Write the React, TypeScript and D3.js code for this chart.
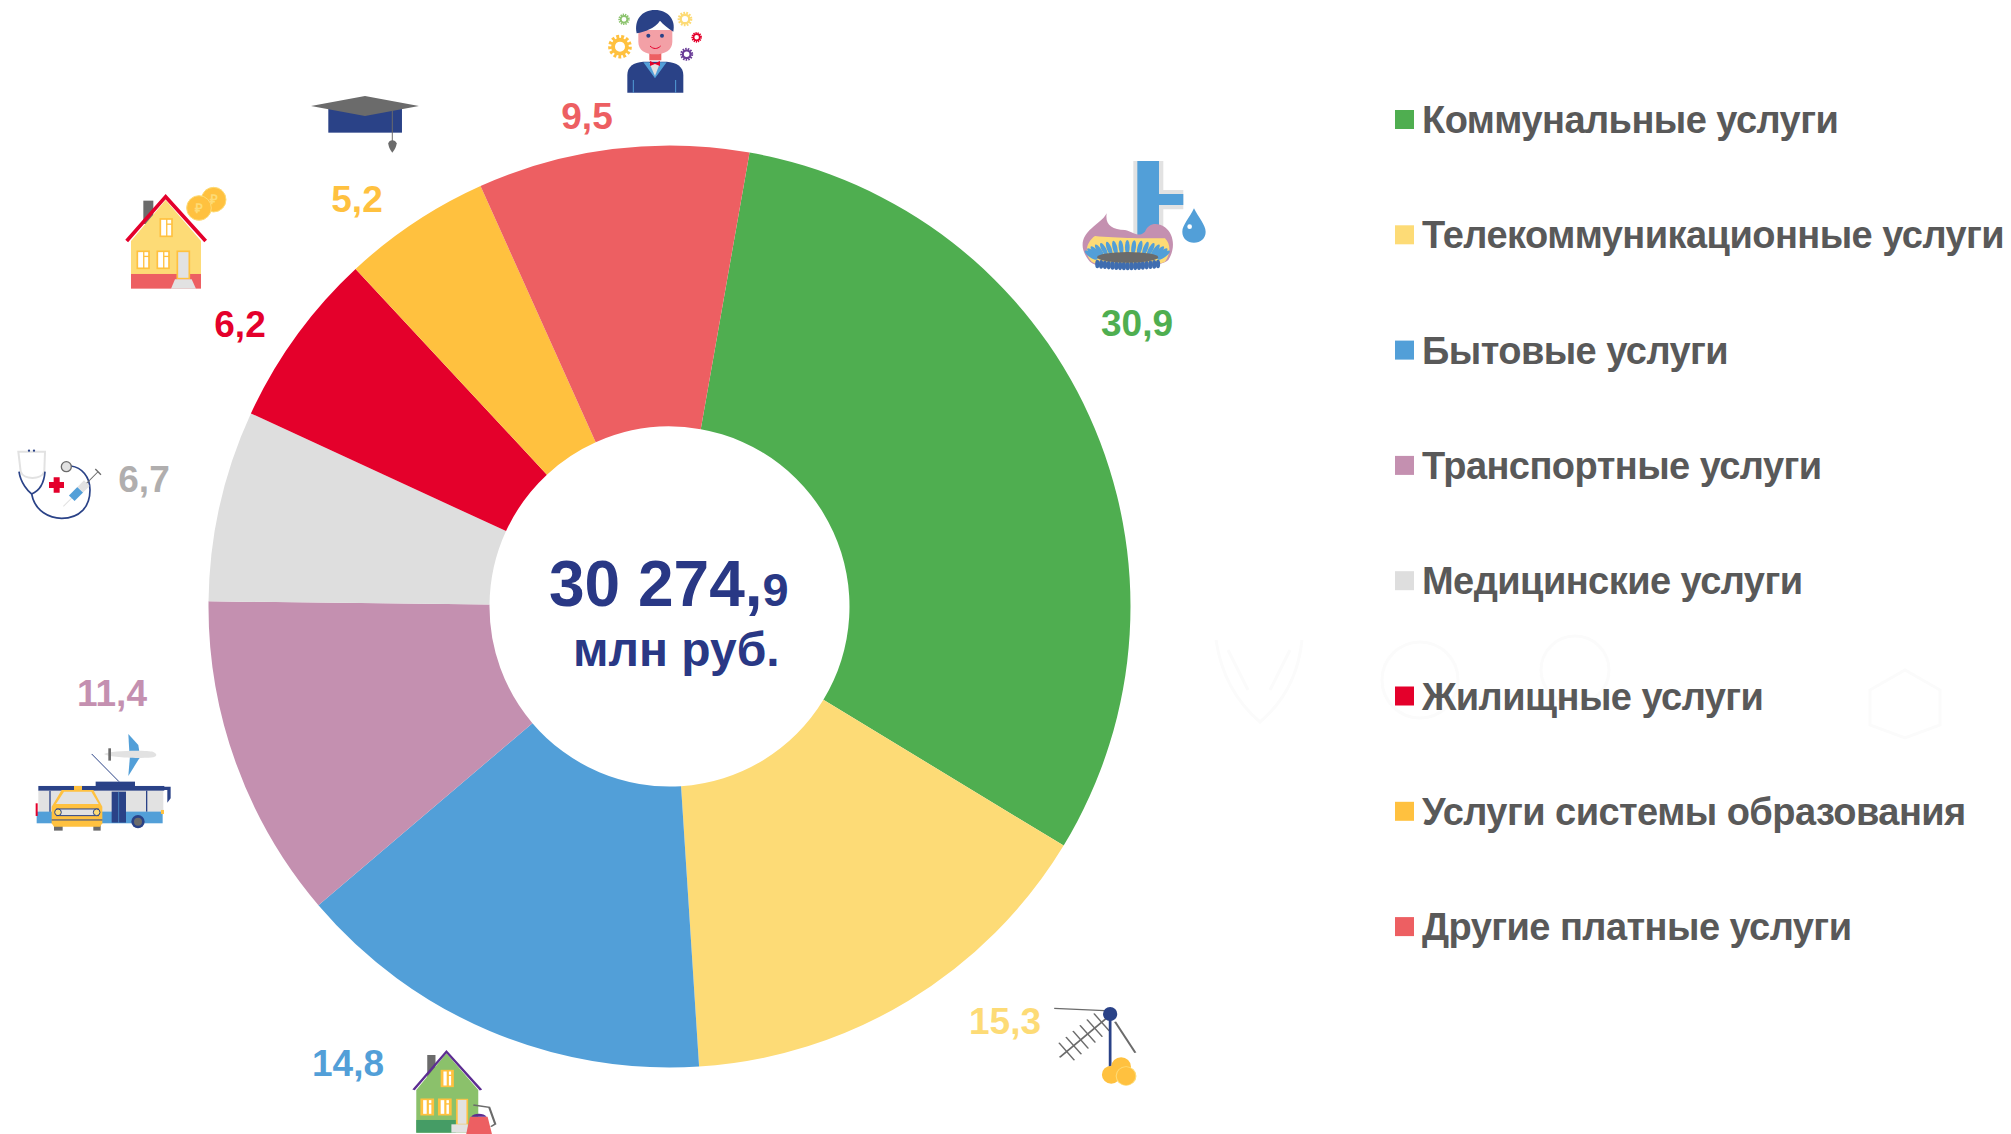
import React from "react";
import * as d3 from "d3";

const categories = [
  "Коммунальные услуги",
  "Телекоммуникационные услуги",
  "Бытовые услуги",
  "Транспортные услуги",
  "Медицинские услуги",
  "Жилищные услуги",
  "Услуги системы образования",
  "Другие платные услуги",
];
const shares = [30.9, 15.3, 14.8, 11.4, 6.7, 6.2, 5.2, 9.5];
const shareLabels = ["30,9", "15,3", "14,8", "11,4", "6,7", "6,2", "5,2", "9,5"];
const sliceColors = ["#4FAE50", "#FDDB76", "#529FD8", "#C490B0", "#DEDEDE", "#E4002B", "#FFC13F", "#ED5F62"];
const labelColors = ["#4FAE50", "#FDDB76", "#529FD8", "#C490B0", "#B0AEAE", "#E4002B", "#FFC13F", "#ED5F62"];
const labelAnchors: [number, number][] = [
  [1137, 336], [1005, 1034], [348, 1076], [112, 706], [144, 492], [240, 337], [357, 212], [587, 129],
];

const NAVY = "#2A4287";
const BLUE = "#529FD8";
const AMBER = "#FFC13F";
const GREY = "#6B6B6B";
const LGREY = "#E2E2E2";

const cx = 669.5;
const cy = 606.5;
const outerR = 461;
const innerR = 180;

const Gear = ({ x, y, r, c }: { x: number; y: number; r: number; c: string }) => (
  <g>
    <circle cx={x} cy={y} r={r} fill="none" stroke={c} strokeWidth={r * 0.45} strokeDasharray={`${r * 0.28} ${r * 0.2}`} />
    <circle cx={x} cy={y} r={r * 0.72} fill="none" stroke={c} strokeWidth={r * 0.4} />
  </g>
);

const Win = ({ x, y, w, h }: { x: number; y: number; w: number; h: number }) => (
  <g>
    <rect x={x} y={y} width={w} height={h} fill="#fff" stroke={AMBER} strokeWidth={5} />
    <line x1={x + w * 0.55} x2={x + w * 0.55} y1={y} y2={y + h} stroke={AMBER} strokeWidth={4} />
    <line x1={x + w * 0.55} x2={x + w} y1={y + h * 0.3} y2={y + h * 0.3} stroke={AMBER} strokeWidth={4} />
  </g>
);

const petals = d3.range(0, 17);

const UtilityIcon = () => (
  <g transform="translate(1050,130) scale(0.3333)">
    <path d="M250 93H340V180H400V238H340V320H250Z" fill={LGREY} />
    <path d="M262 93H327V192H400V225H327V320H262Z" fill={BLUE} />
    <path d="M432 235C445 262 467 285 467 305C467 325 452 338 432 338C412 338 397 325 397 305C397 285 420 262 432 235Z" fill={BLUE} />
    <circle cx={419} cy={290} r={7} fill="#fff" />
    <path d="M170 250C165 285 185 297 225 300C250 305 265 325 285 305C295 280 320 275 345 292C375 315 375 360 355 390C320 420 150 425 120 395C85 355 95 320 125 295C140 280 160 270 170 250Z" fill="#C490B0" />
    <path d="M135 318C200 325 300 325 345 325C365 345 360 375 345 395C300 415 160 415 125 395C100 370 110 335 135 318Z" fill="#FDDB76" />
    {petals.map((i) => {
      const a = -Math.PI * 0.93 + (i / 16) * Math.PI * 0.86;
      const x = 232 + Math.cos(a) * 112;
      const y = 382 + Math.sin(a) * 30;
      return <ellipse key={i} cx={x} cy={y} rx={7} ry={22} fill={BLUE} transform={`rotate(${((a + Math.PI / 2) * 180) / Math.PI * 0.7} ${x} ${y})`} />;
    })}
    {petals.map((i) => {
      const x = 142 + (i / 16) * 182;
      const y = 402 + Math.sin((i / 16) * Math.PI) * 6;
      return <ellipse key={i} cx={x} cy={y} rx={6.5} ry={13} fill="#3F6DB0" />;
    })}
    <ellipse cx={233} cy={382} rx={92} ry={16} fill={GREY} />
  </g>
);

const PersonIcon = () => (
  <g transform="translate(560,0) scale(0.3333)">
    <Gear x={180} y={140} r={29} c={AMBER} />
    <Gear x={192} y={58} r={14} c="#8CC36E" />
    <Gear x={375} y={57} r={18} c="#FDDB76" />
    <Gear x={410} y={112} r={13} c="#E4002B" />
    <Gear x={380} y={163} r={16} c="#6A3D98" />
    <path d="M202 278V225C202 200 220 187 250 185H320C350 187 370 200 370 225V278Z" fill={NAVY} />
    <path d="M250 187L285 235L320 187L300 187L285 225L268 187Z" fill={BLUE} />
    <path d="M268 190H300L285 228Z" fill={LGREY} />
    <line x1={220} y1={240} x2={220} y2={278} stroke={BLUE} strokeWidth={3} />
    <line x1={347} y1={240} x2={347} y2={278} stroke={BLUE} strokeWidth={3} />
    <path d="M270 183L285 190L300 183V198L285 192L270 198Z" fill="#E4002B" />
    <rect x={268} y={155} width={36} height={26} fill="#ED5F62" />
    <path d="M235 90H337V125C337 150 315 163 285 163C255 163 235 150 235 125Z" fill="#F3A0A6" />
    <path d="M230 100C222 60 245 30 285 30C325 30 348 60 340 95C325 85 310 75 300 62C285 85 255 95 230 100Z" fill={NAVY} />
    <circle cx={265} cy={107} r={6} fill={NAVY} />
    <circle cx={306} cy={107} r={6} fill={NAVY} />
    <path d="M270 138C280 148 292 148 302 138" fill="none" stroke="#E4002B" strokeWidth={3} />
  </g>
);

const CapIcon = () => (
  <g transform="translate(100,80) scale(0.3333)">
    <rect x={685} y={85} width={221} height={73} fill={NAVY} />
    <path d="M633 78L795 48L957 78L795 108Z" fill={GREY} />
    <line x1={877} y1={92} x2={877} y2={185} stroke={GREY} strokeWidth={3} />
    <path d="M865 190C868 178 886 178 890 190C890 200 882 212 877 218C872 212 865 200 865 190Z" fill={GREY} />
  </g>
);

const HousingIcon = () => (
  <g transform="translate(100,80) scale(0.3333)">
    <rect x={130} y={362} width={30} height={70} fill={GREY} />
    <path d="M93 483L197 360L303 483V582H93Z" fill="#FDDB76" />
    <rect x={93} y={582} width={210} height={44} fill="#ED5F62" />
    <path d="M80 483L197 350L317 483" fill="none" stroke="#E4002B" strokeWidth={11} />
    <Win x={181} y={417} w={35} h={52} />
    <Win x={112} y={514} w={35} h={51} />
    <Win x={172} y={514} w={35} h={51} />
    <rect x={232} y={514} width={36} height={82} fill={LGREY} stroke={AMBER} strokeWidth={5} />
    <path d="M225 598H275L288 626H213Z" fill={LGREY} />
    <circle cx={341} cy={359} r={37} fill={AMBER} stroke="#FDDB76" strokeWidth={3} />
    <text x={341} y={373} textAnchor="middle" fontFamily="Liberation Sans" fontSize={40} fill="#FDDB76">₽</text>
    <circle cx={297} cy={384} r={37} fill={AMBER} stroke="#FDDB76" strokeWidth={3} />
    <text x={297} y={398} textAnchor="middle" fontFamily="Liberation Sans" fontSize={40} fill="#FDDB76">₽</text>
  </g>
);

const MedIcon = () => (
  <g transform="translate(0,430) scale(0.3333)">
    <path d="M55 65H135L133 125C125 150 70 150 62 125Z" fill="none" stroke={LGREY} strokeWidth={6} />
    <path d="M57 125C62 160 85 185 95 192C125 180 133 150 135 125" fill="none" stroke={NAVY} strokeWidth={5} />
    <path d="M95 192C105 245 150 265 185 265C240 265 270 230 270 180C270 140 245 112 213 108" fill="none" stroke={NAVY} strokeWidth={5} />
    <circle cx={199} cy={110} r={15} fill={LGREY} stroke={GREY} strokeWidth={4} />
    <circle cx={87} cy={62} r={3.5} fill={NAVY} />
    <circle cx={102} cy={62} r={3.5} fill={NAVY} />
    <path d="M161 142H179V156H192V174H179V188H161V174H147V156H161Z" fill="#E4002B" />
    <g transform="rotate(-45 240 180)">
      <rect x={170} y={178} width={50} height={3} fill={LGREY} />
      <rect x={205} y={168} width={36} height={24} fill={BLUE} />
      <rect x={241} y={168} width={28} height={24} fill={LGREY} />
      <rect x={269} y={178} width={48} height={3} fill={GREY} />
      <rect x={315} y={168} width={4} height={24} fill={GREY} />
    </g>
  </g>
);

const TransportIcon = () => (
  <g transform="translate(0,430) scale(0.3333)">
    <path d="M385 912L415 945L418 965H388Z" fill={BLUE} />
    <path d="M385 1038L418 985V978H390Z" fill={BLUE} />
    <path d="M312 972C330 962 440 960 460 966C472 972 472 978 460 982C440 986 330 984 312 972Z" fill={LGREY} />
    <path d="M325 955H333V992H325Z" fill={GREY} />
    <line x1={275} y1={972} x2={357} y2={1055} stroke={NAVY} strokeWidth={3} />
    <rect x={115} y={1080} width={375} height={66} fill={LGREY} />
    <rect x={110} y={1145} width={378} height={35} fill={BLUE} />
    <rect x={287} y={1055} width={118} height={14} fill={NAVY} />
    <rect x={115} y={1068} width={378} height={14} fill={NAVY} />
    <rect x={335} y={1085} width={43} height={93} fill={NAVY} />
    <line x1={356} x2={356} y1={1085} y2={1178} stroke={BLUE} strokeWidth={2} />
    <line x1={150} x2={150} y1={1082} y2={1145} stroke={NAVY} strokeWidth={4} />
    <line x1={440} x2={440} y1={1082} y2={1145} stroke={NAVY} strokeWidth={4} />
    <path d="M492 1070H512V1105L502 1118V1080H492Z" fill={NAVY} />
    <rect x={107} y={1120} width={6} height={38} fill="#E4002B" />
    <rect x={483} y={1140} width={9} height={12} fill={AMBER} />
    <circle cx={414} cy={1175} r={20} fill={NAVY} />
    <circle cx={414} cy={1175} r={12} fill={GREY} />
    <rect x={162} y={1185} width={26} height={17} fill={GREY} />
    <rect x={280} y={1185} width={22} height={17} fill={GREY} />
    <path d="M155 1130L185 1080H280L307 1130V1180L300 1190H162L155 1180Z" fill={AMBER} />
    <path d="M168 1122L192 1085H274L296 1122Z" fill={LGREY} />
    <rect x={222} y={1068} width={24} height={12} fill={AMBER} />
    <rect x={170} y={1137} width={125} height={20} fill={LGREY} stroke={NAVY} strokeWidth={3} />
    <circle cx={174} cy={1147} r={10} fill="#FDDB76" stroke={NAVY} strokeWidth={3} />
    <circle cx={290} cy={1147} r={10} fill="#FDDB76" stroke={NAVY} strokeWidth={3} />
    <line x1={155} x2={307} y1={1170} y2={1170} stroke={NAVY} strokeWidth={3} />
  </g>
);

const yagiBars = [0.1, 0.25, 0.4, 0.55, 0.7, 0.85];

const AntennaIcon = () => (
  <g transform="translate(300,980) scale(0.5485,0.3333)">
    <line x1={1375} y1={85} x2={1467} y2={92} stroke={GREY} strokeWidth={4} />
    <line x1={1486} y1={125} x2={1523} y2={218} stroke={GREY} strokeWidth={4} />
    <line x1={1470} y1={115} x2={1385} y2={232} stroke={GREY} strokeWidth={4} />
    {yagiBars.map((t) => {
      const x = 1470 - 85 * t;
      const y = 115 + 117 * t;
      return <line key={t} x1={x - 14} y1={y - 26} x2={x + 14} y2={y + 26} stroke={GREY} strokeWidth={3} />;
    })}
    <line x1={1477} y1={102} x2={1477} y2={265} stroke={NAVY} strokeWidth={5} />
    <ellipse cx={1477} cy={102} rx={13} ry={21} fill={NAVY} />
    <ellipse cx={1497} cy={260} rx={18} ry={28} fill={AMBER} />
    <ellipse cx={1479} cy={284} rx={17} ry={27} fill={AMBER} />
    <ellipse cx={1506} cy={288} rx={18} ry={28} fill={AMBER} stroke="#FDDB76" strokeWidth={2} />
  </g>
);

const HomeIcon = () => (
  <g transform="translate(300,980) scale(0.5485,0.3333)">
    <rect x={232} y={225} width={15} height={70} fill={GREY} />
    <path d="M212 330L267 220L325 330V458H212Z" fill="#8BC16B" />
    <rect x={212} y={420} width={72} height={38} fill="#459C65" />
    <path d="M207 330L267 215L330 330" fill="none" stroke="#5C2D91" strokeWidth={5} />
    <Win x={259} y={272} w={19} h={47} />
    <Win x={222} y={358} w={20} h={46} />
    <Win x={254} y={358} w={20} h={46} />
    <rect x={286} y={358} width={19} height={75} fill={LGREY} stroke={AMBER} strokeWidth={3} />
    <rect x={276} y={433} width={30} height={25} fill={LGREY} />
    <path d="M316 375L345 382L356 432L348 440" fill="none" stroke={GREY} strokeWidth={4} />
    <path d="M310 410H342L350 462H303Z" fill="#ED5F62" />
    <path d="M312 410C316 398 336 398 340 410Z" fill="#5C2D91" />
  </g>
);

const Watermark = () => (
  <g fill="none" stroke="#FBFBFB" strokeWidth={3}>
    <path d="M1216 640C1222 680 1240 705 1260 722C1280 705 1298 680 1302 640" />
    <path d="M1228 650L1248 690M1290 650L1270 690" />
    <circle cx={1420} cy={680} r={38} />
    <circle cx={1575} cy={670} r={34} />
    <path d="M1870 690L1905 670L1940 690V725L1905 738L1870 725Z" />
  </g>
);

export default function App() {
  const pie = d3
    .pie<number>()
    .sort(null)
    .startAngle((10 * Math.PI) / 180)
    .endAngle((370 * Math.PI) / 180);
  const arc = d3.arc<d3.PieArcDatum<number>>().innerRadius(innerR).outerRadius(outerR);
  const arcs = pie(shares);

  const legendY = d3
    .scalePoint<string>()
    .domain(categories)
    .range([119.5, 119.5 + 115.3 * 7]);

  const font = "'Liberation Sans', Arial, sans-serif";

  return (
    <svg
      width={2011}
      height={1134}
      viewBox="0 0 2011 1134"
      style={{ position: "absolute", left: 0, top: 0, background: "#fff" }}
      fontFamily={font}
      fontWeight={700}
    >
      <Watermark />
      <g transform={`translate(${cx},${cy})`}>
        {arcs.map((a, i) => (
          <path key={categories[i]} d={arc(a) as string} fill={sliceColors[i]} />
        ))}
      </g>

      <text x={549} y={606} fill="#293885" fontSize={64}>
        30 274,<tspan fontSize={47}>9</tspan>
      </text>
      <text x={573} y={666} fill="#293885" fontSize={48}>млн руб.</text>

      {shareLabels.map((s, i) => (
        <text key={s} x={labelAnchors[i][0]} y={labelAnchors[i][1]} textAnchor="middle" fontSize={37} fill={labelColors[i]}>
          {s}
        </text>
      ))}

      {categories.map((c, i) => {
        const y = legendY(c) as number;
        return (
          <g key={c}>
            <rect x={1395} y={y - 9.5} width={19} height={19} fill={sliceColors[i]} />
            <text x={1422} y={y + 13.5} fontSize={38} letterSpacing={-0.55} fill="#595959">{c}</text>
          </g>
        );
      })}

      <UtilityIcon />
      <PersonIcon />
      <CapIcon />
      <HousingIcon />
      <MedIcon />
      <TransportIcon />
      <AntennaIcon />
      <HomeIcon />
    </svg>
  );
}
